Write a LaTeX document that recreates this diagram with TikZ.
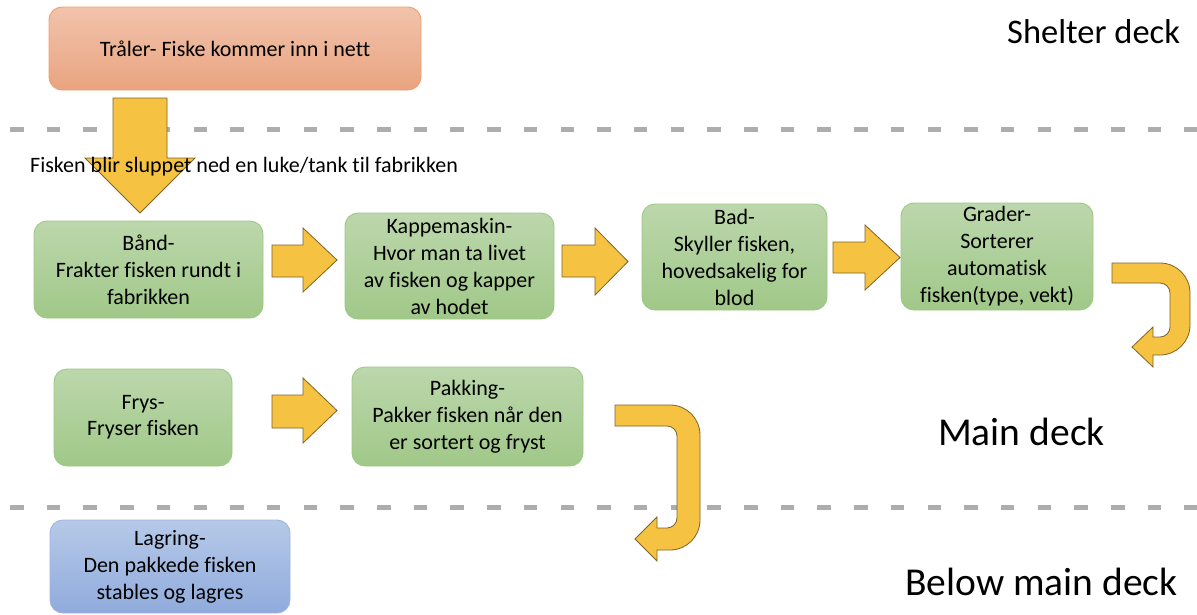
\documentclass[tikz,border=0pt]{standalone}
\usepackage{fontspec}
\setmainfont{Carlito}[Ligatures={NoCommon}]
\definecolor{grnT}{HTML}{BCD7AC}
\definecolor{grnD}{HTML}{A0C888}
\definecolor{grnB}{HTML}{9CC984}
\definecolor{orgT}{HTML}{F1C3AC}
\definecolor{orgD}{HTML}{E9A480}
\definecolor{orgB}{HTML}{EE9F72}
\definecolor{bluT}{HTML}{B6C9E8}
\definecolor{bluD}{HTML}{90ABDC}
\definecolor{bluB}{HTML}{9CB5E0}
\definecolor{arrFill}{HTML}{F5C242}
\definecolor{arrLine}{HTML}{7F6327}
\definecolor{dashGray}{HTML}{ADADAD}
\begin{document}
\begin{tikzpicture}[x=1pt,y=-1pt,
  box/.style={draw, rounded corners=13pt, line width=0.9pt, align=center,
    font=\fontsize{22}{27}\selectfont, inner sep=0pt},
  greenbox/.style={box, draw=grnB, top color=grnT, bottom color=grnD},
  orangebox/.style={box, draw=orgB, top color=orgT, bottom color=orgD},
  bluebox/.style={box, draw=bluB, top color=bluT, bottom color=bluD},
  blockarrow/.style={fill=arrFill, draw=arrLine, line width=0.8pt, line join=miter},
  deckline/.style={draw=dashGray, line width=5pt, dash pattern=on 13.5pt off 23.2pt},
  decklabel/.style={anchor=base west, inner sep=0pt},
  note/.style={anchor=base west, inner sep=0pt, font=\fontsize{22}{27}\selectfont}]
\useasboundingbox (0,0) rectangle (1197,614);

% deck separators
\coordinate (l1a) at (10,129);
\coordinate (l1b) at (1197,129);
\coordinate (l2a) at (10,507);
\coordinate (l2b) at (1197,507);
\draw[deckline] (l1a) -- (l1b);
\draw[deckline] (l2a) -- (l2b);

% boxes
\node[orangebox, minimum width=372pt, minimum height=83pt] (traler) at (235,48.5) {Tråler- Fiske kommer inn i nett};
\node[greenbox, minimum width=229pt, minimum height=97pt] (baand) at (148.5,269.5) {Bånd-\\Frakter fisken rundt i\\fabrikken};
\node[greenbox, minimum width=209pt, minimum height=106pt] (kappe) at (449.5,266) {Kappemaskin-\\Hvor man ta livet\\av fisken og kapper\\av hodet};
\node[greenbox, minimum width=185pt, minimum height=106pt] (bad) at (734.5,257) {Bad-\\Skyller fisken,\\hovedsakelig for\\blod};
\node[greenbox, minimum width=192pt, minimum height=107pt] (grader) at (997,256.5) {Grader-\\Sorterer\\automatisk\\fisken(type, vekt)};
\node[greenbox, minimum width=178pt, minimum height=97pt] (frys) at (143,417.5) {\raisebox{-3pt}{\shortstack{Frys-\\[4pt]Fryser fisken}}};
\node[greenbox, minimum width=231pt, minimum height=99pt] (pakk) at (467.5,416.5) {Pakking-\\Pakker fisken når den\\er sortert og fryst};
\node[bluebox, minimum width=240pt, minimum height=93pt] (lagring) at (170,566.5) {Lagring-\\Den pakkede fisken\\stables og lagres};

% down arrow
\draw[blockarrow] (113,98) -- (167,98) -- (167,158) -- (195,158) -- (140,213) -- (85,158) -- (113,158) -- cycle;
\node[note] (drop) at (30,172) {Fisken blir sluppet ned en luke/tank til fabrikken};

% right arrows
\draw[blockarrow] (272,245) -- (303,245) -- (303,228) -- (337,260) -- (303,292) -- (303,277) -- (272,277) -- cycle;
\draw[blockarrow] (562,245) -- (595,245) -- (595,228) -- (628,261.5) -- (595,295) -- (595,277) -- (562,277) -- cycle;
\draw[blockarrow] (833,242) -- (865,242) -- (865,225) -- (900,257.5) -- (865,290) -- (865,273) -- (833,273) -- cycle;
\draw[blockarrow] (272,395) -- (303,395) -- (303,378) -- (337,410.5) -- (303,443) -- (303,428) -- (272,428) -- cycle;

% U-turn arrows
\draw[blockarrow] (1112,263) -- (1160,263) .. controls (1176.6,263) and (1190,276.4) .. (1190,293)
  -- (1190,325) .. controls (1190,341.6) and (1176.6,355) .. (1160,355) -- (1153,355) -- (1153,367)
  -- (1132,347) -- (1153,327) -- (1153,337) -- (1160,337) .. controls (1165.5,337) and (1170,332.5) .. (1170,327)
  -- (1170,293) .. controls (1170,287.5) and (1165.5,283) .. (1160,283) -- (1112,283) -- cycle;
\draw[blockarrow] (615,405) -- (670,405) .. controls (686.6,405) and (700,418.4) .. (700,435)
  -- (700,520) .. controls (700,536.6) and (686.6,550) .. (670,550) -- (657,550) -- (657,561)
  -- (635,539) -- (657,517) -- (657,528) -- (667,528) .. controls (672.5,528) and (677,523.5) .. (677,518)
  -- (677,436) .. controls (677,430.5) and (672.5,426) .. (667,426) -- (615,426) -- cycle;

% deck labels
\node[decklabel, font=\fontsize{34.5}{40}\selectfont] (shelter) at (1007,43) {Shelter deck};
\node[decklabel, font=\fontsize{39.5}{45}\selectfont] (main) at (938,445) {Main deck};
\node[decklabel, font=\fontsize{39.5}{45}\selectfont] (below) at (905,595) {Below main deck};
\end{tikzpicture}
\end{document}
